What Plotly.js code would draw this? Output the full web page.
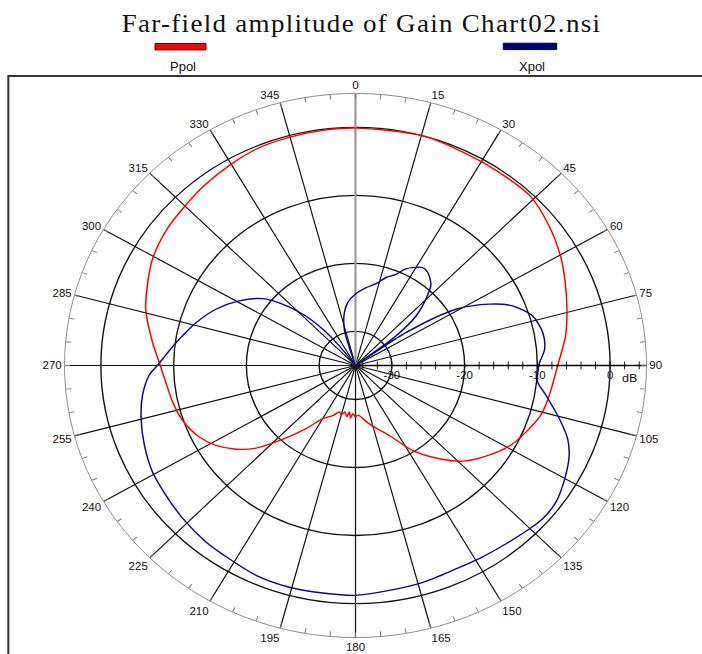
<!DOCTYPE html>
<html><head><meta charset="utf-8">
<script src="https://cdn.plot.ly/plotly-3.0.1.min.js"></script>
<style>
html,body{margin:0;padding:0;overflow:hidden;background:#fff;width:702px;height:654px;}
#chart{width:702px;height:700px;transform:scaleY(0.935);transform-origin:0 0;}
.gtitle{letter-spacing:1.3px;}
</style></head><body><div id="chart"></div>
<script>
// Ppol (red) – angle in degrees (clockwise from top), gain in dB
const thetaPpol = [0, 15.6, 30.7, 43.9, 52.4, 60.6, 67.1, 75, 81.4, 90, 99.3, 106, 118, 125.7, 133.6, 140, 147.8, 155.7, 162, 167.5, 172, 175, 177.6, 180, 183, 185, 187, 189, 192, 195, 198, 203, 209.9, 216.2, 222.7, 228.4, 233.1, 238.5, 243.9, 251.2, 257.9, 264.7, 271.1, 276.9, 286, 293.1, 299.3, 307.6, 315.1, 322.1, 330.3, 337.6, 344.8, 352.6, 360];
const rPpol = [-0.1, 0.0, -0.4, -0.4, -1.4, -2.6, -3.7, -4.9, -5.8, -7.2, -8.0, -8.5, -10.5, -12.4, -14.6, -17.1, -20.2, -23.7, -25.2, -26.2, -27.0, -27.5, -27.7, -27.4, -27.9, -27.2, -28.1, -27.4, -28.0, -27.5, -27.8, -27.0, -26.0, -23.5, -20.2, -16.7, -14.5, -12.5, -11.1, -9.9, -9.3, -8.8, -8.0, -6.9, -5.0, -3.95, -3.0, -2.25, -1.85, -1.35, -0.8, -0.35, -0.25, -0.15, -0.1];

// Xpol (navy)
const thetaXpol = [0, 7, 13, 18, 22.5, 26, 32.7, 36, 41, 44, 48.8, 52, 53.5, 55.2, 59.1, 63.9, 67.9, 73.3, 79.4, 84.8, 89.1, 92, 95.5, 99.5, 105.6, 110.3, 114.2, 119.2, 126.1, 131.2, 135.1, 141.7, 149.1, 155.2, 163.8, 172, 180, 187.7, 195.6, 203.9, 211.4, 218.3, 226.5, 233.7, 240.7, 248, 255.1, 261.5, 267.1, 270.1, 277.7, 286, 293.3, 300.7, 307.6, 312, 316.1, 319.8, 322.2, 324, 341, 343.9, 348.8, 353.4, 360];
const rXpol = [-24.5, -23.5, -22.7, -21.4, -20.5, -19.2, -17.9, -18.1, -19.2, -20.8, -23.9, -27.9, -35, -26.5, -18.9, -14.5, -11.7, -9.6, -8.8, -8.9, -9.7, -9.9, -9.85, -8.45, -5.9, -3.9, -2.8, -1.9, -0.9, -0.8, -1.1, -1.6, -1.9, -2.05, -1.8, -1.6, -1.2, -1.25, -1.15, -1.25, -1.7, -1.9, -2.3, -2.7, -3.0, -3.7, -4.5, -5.4, -6.6, -7.8, -10.1, -12.2, -14.1, -16.4, -18.9, -21.5, -24.5, -28, -31.4, -35, -35, -29.5, -27.1, -25.7, -24.5];

// Axis ticks
const angleLabels = ['0','15','30','45','60','75','90','105','120','135','150','165','180','195','210','225','240','255','270','285','300','315','330','345'];
const radialTicks = [-30, -20, -10, 0];
const radialLabels = ['-30', '-20', '-10', '0'];
const radialRange = [-35, 5];

// angular ticks every 5 degrees, labels every 15
const angTickVals = [], angTickText = [];
for (let a = 0; a < 360; a += 5) {
  angTickVals.push(a);
  angTickText.push(a % 15 === 0 ? angleLabels[a / 15] : '');
}
// spokes every 15 degrees (except 0, drawn grey)
const spokeR = [], spokeT = [];
for (let a = 15; a < 360; a += 15) {
  spokeR.push(radialRange[0], radialRange[1], null);
  spokeT.push(a, a, null);
}
// minor radial ticks every 2 dB
const minorR = [], minorT = [];
for (let v = -34; v <= 4; v += 2) { minorR.push(v); minorT.push(90); }

const traces = [
  {type:'scatterpolar', mode:'lines', r:spokeR, theta:spokeT, line:{color:'#111', width:1.2}, hoverinfo:'skip', showlegend:false},
  {type:'scatterpolar', mode:'lines', r:radialRange, theta:[0,0], line:{color:'#9a9a9a', width:2.2}, hoverinfo:'skip', showlegend:false},
  {type:'scatterpolar', mode:'markers', r:minorR, theta:minorT, marker:{symbol:'line-ns', size:6, line:{color:'#111', width:1}}, hoverinfo:'skip', showlegend:false},
  {type:'scatterpolar', mode:'lines', name:'Ppol', r:rPpol, theta:thetaPpol, line:{color:'#ff0000', width:1.5, shape:'spline', smoothing:0.8}, showlegend:false},
  {type:'scatterpolar', mode:'lines', name:'Xpol', r:rXpol, theta:thetaXpol, line:{color:'#0a0a80', width:1.5, shape:'spline', smoothing:0.8}, showlegend:false}
];

const H = 700;
const py = v => 1 - v / H;
const layout = {
  width: 702, height: H,
  margin: {l:0, r:0, t:0, b:0},
  paper_bgcolor: '#fff',
  showlegend: false,
  title: {text:'Far-field amplitude of Gain Chart02.nsi',
    font:{family:'Liberation Serif, Times New Roman, serif', size:27, color:'#111'},
    x: 361.5/702, xanchor:'center', xref:'paper', y: py(24.5), yref:'container', yanchor:'middle'},
  polar: {
    domain: {x:[0.0919, 0.9209], y:[0.0259, 0.8573]},
    bgcolor: '#fff',
    angularaxis: {rotation:90, direction:'clockwise', tickmode:'array', tickvals:angTickVals, ticktext:angTickText,
      ticks:'inside', ticklen:5, tickcolor:'#777', tickwidth:1, showline:true, linecolor:'#8a8a8a', linewidth:1,
      showgrid:false, tickfont:{family:'Liberation Sans, Arial, sans-serif', size:11.5, color:'#111'}},
    radialaxis: {range:radialRange, angle:0, tickangle:0, tickmode:'array', tickvals:radialTicks, ticktext:radialLabels,
      showgrid:true, gridcolor:'#111', gridwidth:1.4, showline:true, linecolor:'#000', linewidth:1.5, ticks:'',
      tickfont:{family:'Liberation Sans, Arial, sans-serif', size:11.5, color:'#111'}}
  },
  shapes: [
    {type:'rect', xref:'paper', yref:'paper', x0:8.3/702, x1:1.05, y0:-0.05, y1:py(81.3), line:{color:'#333', width:2}, layer:'below'},
    {type:'rect', xref:'paper', yref:'paper', x0:155/702, x1:206/702, y0:py(53.4), y1:py(46.6), fillcolor:'#ff0000', line:{color:'#500', width:1}},
    {type:'rect', xref:'paper', yref:'paper', x0:503.3/702, x1:556.7/702, y0:py(53), y1:py(46.2), fillcolor:'#000080', line:{color:'#000040', width:1}}
  ],
  annotations: [
    {text:'Ppol', xref:'paper', yref:'paper', x:183/702, y:py(71.7), xanchor:'center', yanchor:'middle', showarrow:false, font:{family:'Liberation Sans, Arial, sans-serif', size:13, color:'#111'}},
    {text:'Xpol', xref:'paper', yref:'paper', x:531.7/702, y:py(71.7), xanchor:'center', yanchor:'middle', showarrow:false, font:{family:'Liberation Sans, Arial, sans-serif', size:13, color:'#111'}},
    {text:'dB', xref:'paper', yref:'paper', x:629/702, y:py(404.6), xanchor:'center', yanchor:'middle', showarrow:false, font:{family:'Liberation Sans, Arial, sans-serif', size:12.5, color:'#111'}}
  ]
};
Plotly.newPlot('chart', traces, layout, {displayModeBar:false, staticPlot:true});
</script></body></html>
